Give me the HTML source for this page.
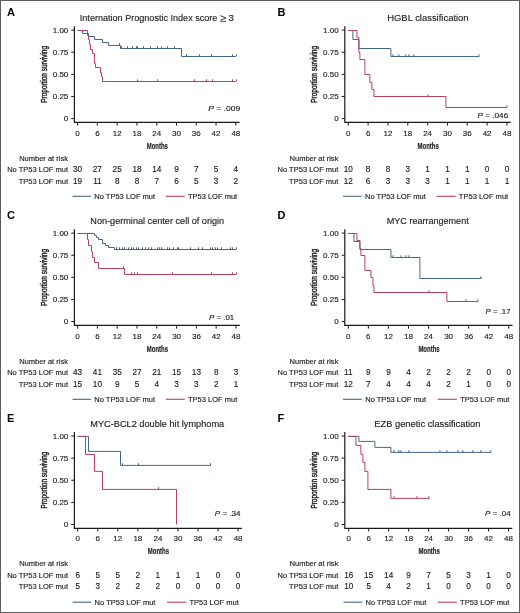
<!DOCTYPE html>
<html><head><meta charset="utf-8"><style>
html,body{margin:0;padding:0;background:#fff;}
svg{display:block;will-change:transform;}
text{font-family:"Liberation Sans",sans-serif;fill:#1e1e1e;stroke:#1e1e1e;stroke-width:0.15px;}
.lab{font-weight:bold;font-size:11px;fill:#000;stroke:none;}
.title{font-size:9.6px;}
.ge{font-size:11.2px;}
.tl{font-size:8px;}
.rt{font-size:7.52px;}
.rn{font-size:8.2px;}
.pv{font-size:7.6px;}
.axl{font-size:9.8px;font-weight:bold;stroke-width:0.2px;}
.axl2{font-size:9px;stroke-width:0.42px;}
.axis{fill:none;stroke:#1a1a1a;stroke-width:1.2;}
.tick{fill:none;stroke:#1a1a1a;stroke-width:1;}
</style></head>
<body><svg width="520" height="613" viewBox="0 0 520 613">
<rect x="0" y="0" width="520" height="613" fill="#fff"/>
<g transform="translate(0,0)">
<text x="7" y="16.3" class="lab">A</text>
<text x="79.80" y="21.4" class="title" textLength="137.60" lengthAdjust="spacingAndGlyphs">Internation Prognostic Index score</text>
<text x="219.9" y="22.3" class="title ge">≥</text>
<text x="228.4" y="21.3" class="title">3</text>
<path d="M74.4,26.2V122.4H239.64" class="axis"/>
<path d="M71.2,118.60H74.4" class="tick"/>
<text x="68.3" y="121.30" class="tl" text-anchor="end">0</text>
<path d="M71.2,96.47H74.4" class="tick"/>
<text x="68.3" y="99.17" class="tl" text-anchor="end">0.25</text>
<path d="M71.2,74.35H74.4" class="tick"/>
<text x="68.3" y="77.05" class="tl" text-anchor="end">0.50</text>
<path d="M71.2,52.22H74.4" class="tick"/>
<text x="68.3" y="54.92" class="tl" text-anchor="end">0.75</text>
<path d="M71.2,30.10H74.4" class="tick"/>
<text x="68.3" y="32.80" class="tl" text-anchor="end">1.00</text>
<path d="M77.60,122.4V125.6" class="tick"/>
<text x="77.60" y="135.5" class="tl" text-anchor="middle">0</text>
<path d="M97.38,122.4V125.6" class="tick"/>
<text x="97.38" y="135.5" class="tl" text-anchor="middle">6</text>
<path d="M117.16,122.4V125.6" class="tick"/>
<text x="117.16" y="135.5" class="tl" text-anchor="middle">12</text>
<path d="M136.94,122.4V125.6" class="tick"/>
<text x="136.94" y="135.5" class="tl" text-anchor="middle">18</text>
<path d="M156.72,122.4V125.6" class="tick"/>
<text x="156.72" y="135.5" class="tl" text-anchor="middle">24</text>
<path d="M176.50,122.4V125.6" class="tick"/>
<text x="176.50" y="135.5" class="tl" text-anchor="middle">30</text>
<path d="M196.28,122.4V125.6" class="tick"/>
<text x="196.28" y="135.5" class="tl" text-anchor="middle">36</text>
<path d="M216.06,122.4V125.6" class="tick"/>
<text x="216.06" y="135.5" class="tl" text-anchor="middle">42</text>
<path d="M235.84,122.4V125.6" class="tick"/>
<text x="235.84" y="135.5" class="tl" text-anchor="middle">48</text>
<text x="146.73" y="148.6" class="axl" textLength="21.2" lengthAdjust="spacingAndGlyphs">Months</text>
<text transform="translate(46.7,102.65) rotate(-90)" class="axl2" textLength="56.6" lengthAdjust="spacingAndGlyphs">Proportion surviving</text>
<text x="208.30" y="111.2" class="pv" textLength="31.80" lengthAdjust="spacingAndGlyphs"><tspan font-style="italic">P</tspan> = .009</text>
<path d="M77.60,30.50H82.50V33.50H88.50V36.50H94.50V39.50H102.50V42.50H108.50V45.50H120.50V48.50H181.50V56.50H235.84" fill="none" stroke="#466688" stroke-width="1"/>
<path d="M119.50,45.50v-2.2M121.50,48.50v-2.2M127.50,48.50v-2.2M132.50,48.50v-2.2M136.50,48.50v-2.2M137.50,48.50v-2.2M143.50,48.50v-2.2M150.50,48.50v-2.2M157.50,48.50v-2.2M161.50,48.50v-2.2M167.50,48.50v-2.2M174.50,48.50v-2.2M186.50,56.50v-2.2M199.50,56.50v-2.2M211.50,56.50v-2.2M232.50,56.50v-2.2M236.50,56.50v-2.2" fill="none" stroke="#466688" stroke-width="1"/>
<path d="M77.60,30.50H87.50V35.50H88.50V39.50H89.50V44.50H90.50V49.50H92.50V53.50H94.50V58.50H94.50V63.50H95.50V67.50H100.50V72.50H101.50V76.50H102.50V81.50H235.84" fill="none" stroke="#bb3f60" stroke-width="1"/>
<path d="M137.50,81.50v-2.2M157.50,81.50v-2.2M194.50,81.50v-2.2M206.50,81.50v-2.2M212.50,81.50v-2.2M232.50,81.50v-2.2M236.50,81.50v-2.2" fill="none" stroke="#bb3f60" stroke-width="1"/>
<text x="68" y="160.6" class="rt" text-anchor="end">Number at risk</text>
<text x="68" y="172.3" class="rt" text-anchor="end">No TP53 LOF mut</text>
<text x="68" y="183.5" class="rt" text-anchor="end">TP53 LOF mut</text>
<text x="77.60" y="172.4" class="rn" text-anchor="middle">30</text>
<text x="97.38" y="172.4" class="rn" text-anchor="middle">27</text>
<text x="117.16" y="172.4" class="rn" text-anchor="middle">25</text>
<text x="136.94" y="172.4" class="rn" text-anchor="middle">18</text>
<text x="156.72" y="172.4" class="rn" text-anchor="middle">14</text>
<text x="176.50" y="172.4" class="rn" text-anchor="middle">9</text>
<text x="196.28" y="172.4" class="rn" text-anchor="middle">7</text>
<text x="216.06" y="172.4" class="rn" text-anchor="middle">5</text>
<text x="235.84" y="172.4" class="rn" text-anchor="middle">4</text>
<text x="77.60" y="183.6" class="rn" text-anchor="middle">19</text>
<text x="97.38" y="183.6" class="rn" text-anchor="middle">11</text>
<text x="117.16" y="183.6" class="rn" text-anchor="middle">8</text>
<text x="136.94" y="183.6" class="rn" text-anchor="middle">8</text>
<text x="156.72" y="183.6" class="rn" text-anchor="middle">7</text>
<text x="176.50" y="183.6" class="rn" text-anchor="middle">6</text>
<text x="196.28" y="183.6" class="rn" text-anchor="middle">5</text>
<text x="216.06" y="183.6" class="rn" text-anchor="middle">3</text>
<text x="235.84" y="183.6" class="rn" text-anchor="middle">2</text>
<path d="M72.51,196.3H90.99" stroke="#466688" stroke-width="1.1"/>
<text x="94.28" y="199" class="rt">No TP53 LOF mut</text>
<path d="M165.71,196.3H184.69" stroke="#bb3f60" stroke-width="1.1"/>
<text x="187.89" y="199" class="rt">TP53 LOF mut</text>
</g>
<g transform="translate(270.4,0)">
<text x="7" y="16.3" class="lab">B</text>
<text x="116.80" y="21.4" class="title" textLength="81.40" lengthAdjust="spacingAndGlyphs">HGBL classification</text>
<path d="M74.4,26.2V122.4H240.34" class="axis"/>
<path d="M71.2,118.60H74.4" class="tick"/>
<text x="68.3" y="121.30" class="tl" text-anchor="end">0</text>
<path d="M71.2,96.47H74.4" class="tick"/>
<text x="68.3" y="99.17" class="tl" text-anchor="end">0.25</text>
<path d="M71.2,74.35H74.4" class="tick"/>
<text x="68.3" y="77.05" class="tl" text-anchor="end">0.50</text>
<path d="M71.2,52.22H74.4" class="tick"/>
<text x="68.3" y="54.92" class="tl" text-anchor="end">0.75</text>
<path d="M71.2,30.10H74.4" class="tick"/>
<text x="68.3" y="32.80" class="tl" text-anchor="end">1.00</text>
<path d="M77.90,122.4V125.6" class="tick"/>
<text x="77.90" y="135.5" class="tl" text-anchor="middle">0</text>
<path d="M97.73,122.4V125.6" class="tick"/>
<text x="97.73" y="135.5" class="tl" text-anchor="middle">6</text>
<path d="M117.56,122.4V125.6" class="tick"/>
<text x="117.56" y="135.5" class="tl" text-anchor="middle">12</text>
<path d="M137.39,122.4V125.6" class="tick"/>
<text x="137.39" y="135.5" class="tl" text-anchor="middle">18</text>
<path d="M157.22,122.4V125.6" class="tick"/>
<text x="157.22" y="135.5" class="tl" text-anchor="middle">24</text>
<path d="M177.05,122.4V125.6" class="tick"/>
<text x="177.05" y="135.5" class="tl" text-anchor="middle">30</text>
<path d="M196.88,122.4V125.6" class="tick"/>
<text x="196.88" y="135.5" class="tl" text-anchor="middle">36</text>
<path d="M216.71,122.4V125.6" class="tick"/>
<text x="216.71" y="135.5" class="tl" text-anchor="middle">42</text>
<path d="M236.54,122.4V125.6" class="tick"/>
<text x="236.54" y="135.5" class="tl" text-anchor="middle">48</text>
<text x="147.20" y="148.6" class="axl" textLength="21.2" lengthAdjust="spacingAndGlyphs">Months</text>
<text transform="translate(46.7,102.65) rotate(-90)" class="axl2" textLength="56.6" lengthAdjust="spacingAndGlyphs">Proportion surviving</text>
<text x="207.20" y="117.9" class="pv" textLength="30.60" lengthAdjust="spacingAndGlyphs"><tspan font-style="italic">P</tspan> = .046</text>
<path d="M77.80,30.50H82.50V39.50H88.50V48.50H120.50V56.50H208.81" fill="none" stroke="#466688" stroke-width="1"/>
<path d="M122.50,56.50v-2.2M128.50,56.50v-2.2M135.50,56.50v-2.2M138.50,56.50v-2.2M143.50,56.50v-2.2M208.50,56.50v-2.2" fill="none" stroke="#466688" stroke-width="1"/>
<path d="M77.80,30.50H86.50V37.50H88.50V52.50H89.50V59.50H94.50V74.50H99.50V82.50H101.50V89.50H103.50V96.50H175.50V107.50H236.54" fill="none" stroke="#bb3f60" stroke-width="1"/>
<path d="M157.50,96.50v-2.2M236.50,107.50v-2.2" fill="none" stroke="#bb3f60" stroke-width="1"/>
<text x="68" y="160.6" class="rt" text-anchor="end">Number at risk</text>
<text x="68" y="172.3" class="rt" text-anchor="end">No TP53 LOF mut</text>
<text x="68" y="183.5" class="rt" text-anchor="end">TP53 LOF mut</text>
<text x="77.90" y="172.4" class="rn" text-anchor="middle">10</text>
<text x="97.73" y="172.4" class="rn" text-anchor="middle">8</text>
<text x="117.56" y="172.4" class="rn" text-anchor="middle">8</text>
<text x="137.39" y="172.4" class="rn" text-anchor="middle">3</text>
<text x="157.22" y="172.4" class="rn" text-anchor="middle">1</text>
<text x="177.05" y="172.4" class="rn" text-anchor="middle">1</text>
<text x="196.88" y="172.4" class="rn" text-anchor="middle">1</text>
<text x="216.71" y="172.4" class="rn" text-anchor="middle">0</text>
<text x="236.54" y="172.4" class="rn" text-anchor="middle">0</text>
<text x="77.90" y="183.6" class="rn" text-anchor="middle">12</text>
<text x="97.73" y="183.6" class="rn" text-anchor="middle">6</text>
<text x="117.56" y="183.6" class="rn" text-anchor="middle">3</text>
<text x="137.39" y="183.6" class="rn" text-anchor="middle">3</text>
<text x="157.22" y="183.6" class="rn" text-anchor="middle">3</text>
<text x="177.05" y="183.6" class="rn" text-anchor="middle">1</text>
<text x="196.88" y="183.6" class="rn" text-anchor="middle">1</text>
<text x="216.71" y="183.6" class="rn" text-anchor="middle">1</text>
<text x="236.54" y="183.6" class="rn" text-anchor="middle">1</text>
<path d="M72.79,196.3H91.32" stroke="#466688" stroke-width="1.1"/>
<text x="94.63" y="199" class="rt">No TP53 LOF mut</text>
<path d="M166.23,196.3H185.26" stroke="#bb3f60" stroke-width="1.1"/>
<text x="188.47" y="199" class="rt">TP53 LOF mut</text>
</g>
<g transform="translate(0,203)">
<text x="7" y="16.3" class="lab">C</text>
<text x="90.30" y="21.4" class="title" textLength="133.90" lengthAdjust="spacingAndGlyphs">Non-germinal center cell of origin</text>
<path d="M74.4,26.2V122.4H239.80" class="axis"/>
<path d="M71.2,118.60H74.4" class="tick"/>
<text x="68.3" y="121.30" class="tl" text-anchor="end">0</text>
<path d="M71.2,96.47H74.4" class="tick"/>
<text x="68.3" y="99.17" class="tl" text-anchor="end">0.25</text>
<path d="M71.2,74.35H74.4" class="tick"/>
<text x="68.3" y="77.05" class="tl" text-anchor="end">0.50</text>
<path d="M71.2,52.22H74.4" class="tick"/>
<text x="68.3" y="54.92" class="tl" text-anchor="end">0.75</text>
<path d="M71.2,30.10H74.4" class="tick"/>
<text x="68.3" y="32.80" class="tl" text-anchor="end">1.00</text>
<path d="M77.60,122.4V125.6" class="tick"/>
<text x="77.60" y="135.5" class="tl" text-anchor="middle">0</text>
<path d="M97.40,122.4V125.6" class="tick"/>
<text x="97.40" y="135.5" class="tl" text-anchor="middle">6</text>
<path d="M117.20,122.4V125.6" class="tick"/>
<text x="117.20" y="135.5" class="tl" text-anchor="middle">12</text>
<path d="M137.00,122.4V125.6" class="tick"/>
<text x="137.00" y="135.5" class="tl" text-anchor="middle">18</text>
<path d="M156.80,122.4V125.6" class="tick"/>
<text x="156.80" y="135.5" class="tl" text-anchor="middle">24</text>
<path d="M176.60,122.4V125.6" class="tick"/>
<text x="176.60" y="135.5" class="tl" text-anchor="middle">30</text>
<path d="M196.40,122.4V125.6" class="tick"/>
<text x="196.40" y="135.5" class="tl" text-anchor="middle">36</text>
<path d="M216.20,122.4V125.6" class="tick"/>
<text x="216.20" y="135.5" class="tl" text-anchor="middle">42</text>
<path d="M236.00,122.4V125.6" class="tick"/>
<text x="236.00" y="135.5" class="tl" text-anchor="middle">48</text>
<text x="146.80" y="148.6" class="axl" textLength="21.2" lengthAdjust="spacingAndGlyphs">Months</text>
<text transform="translate(46.7,102.65) rotate(-90)" class="axl2" textLength="56.6" lengthAdjust="spacingAndGlyphs">Proportion surviving</text>
<text x="209.10" y="116.6" class="pv" textLength="25.00" lengthAdjust="spacingAndGlyphs"><tspan font-style="italic">P</tspan> = .01</text>
<path d="M77.60,30.50H94.50V32.50H96.50V34.50H98.50V36.50H102.50V40.50H105.50V42.50H108.50V44.50H114.50V46.50H236.00" fill="none" stroke="#466688" stroke-width="1"/>
<path d="M116.50,46.50v-2.2M119.50,46.50v-2.2M122.50,46.50v-2.2M124.50,46.50v-2.2M128.50,46.50v-2.2M131.50,46.50v-2.2M133.50,46.50v-2.2M136.50,46.50v-2.2M138.50,46.50v-2.2M142.50,46.50v-2.2M145.50,46.50v-2.2M148.50,46.50v-2.2M151.50,46.50v-2.2M157.50,46.50v-2.2M159.50,46.50v-2.2M161.50,46.50v-2.2M167.50,46.50v-2.2M169.50,46.50v-2.2M173.50,46.50v-2.2M177.50,46.50v-2.2M178.50,46.50v-2.2M190.50,46.50v-2.2M198.50,46.50v-2.2M202.50,46.50v-2.2M210.50,46.50v-2.2M212.50,46.50v-2.2M215.50,46.50v-2.2M217.50,46.50v-2.2M221.50,46.50v-2.2M230.50,46.50v-2.2M232.50,46.50v-2.2M236.50,46.50v-2.2" fill="none" stroke="#466688" stroke-width="1"/>
<path d="M77.60,30.50H87.50V36.50H88.50V42.50H91.50V48.50H92.50V54.50H94.50V59.50H98.50V65.50H124.50V71.50H236.00" fill="none" stroke="#bb3f60" stroke-width="1"/>
<path d="M123.50,65.50v-2.2M131.50,71.50v-2.2M134.50,71.50v-2.2M137.50,71.50v-2.2M172.50,71.50v-2.2M211.50,71.50v-2.2M232.50,71.50v-2.2M236.50,71.50v-2.2" fill="none" stroke="#bb3f60" stroke-width="1"/>
<text x="68" y="160.6" class="rt" text-anchor="end">Number at risk</text>
<text x="68" y="172.3" class="rt" text-anchor="end">No TP53 LOF mut</text>
<text x="68" y="183.5" class="rt" text-anchor="end">TP53 LOF mut</text>
<text x="77.60" y="172.4" class="rn" text-anchor="middle">43</text>
<text x="97.40" y="172.4" class="rn" text-anchor="middle">41</text>
<text x="117.20" y="172.4" class="rn" text-anchor="middle">35</text>
<text x="137.00" y="172.4" class="rn" text-anchor="middle">27</text>
<text x="156.80" y="172.4" class="rn" text-anchor="middle">21</text>
<text x="176.60" y="172.4" class="rn" text-anchor="middle">15</text>
<text x="196.40" y="172.4" class="rn" text-anchor="middle">13</text>
<text x="216.20" y="172.4" class="rn" text-anchor="middle">8</text>
<text x="236.00" y="172.4" class="rn" text-anchor="middle">3</text>
<text x="77.60" y="183.6" class="rn" text-anchor="middle">15</text>
<text x="97.40" y="183.6" class="rn" text-anchor="middle">10</text>
<text x="117.20" y="183.6" class="rn" text-anchor="middle">9</text>
<text x="137.00" y="183.6" class="rn" text-anchor="middle">5</text>
<text x="156.80" y="183.6" class="rn" text-anchor="middle">4</text>
<text x="176.60" y="183.6" class="rn" text-anchor="middle">3</text>
<text x="196.40" y="183.6" class="rn" text-anchor="middle">3</text>
<text x="216.20" y="183.6" class="rn" text-anchor="middle">2</text>
<text x="236.00" y="183.6" class="rn" text-anchor="middle">1</text>
<path d="M72.50,196.3H91.00" stroke="#466688" stroke-width="1.1"/>
<text x="94.30" y="199" class="rt">No TP53 LOF mut</text>
<path d="M165.80,196.3H184.80" stroke="#bb3f60" stroke-width="1.1"/>
<text x="188.00" y="199" class="rt">TP53 LOF mut</text>
</g>
<g transform="translate(270.4,203)">
<text x="7" y="16.3" class="lab">D</text>
<text x="116.40" y="21.4" class="title" textLength="81.90" lengthAdjust="spacingAndGlyphs">MYC rearrangement</text>
<path d="M74.4,26.2V122.4H242.18" class="axis"/>
<path d="M71.2,118.60H74.4" class="tick"/>
<text x="68.3" y="121.30" class="tl" text-anchor="end">0</text>
<path d="M71.2,96.47H74.4" class="tick"/>
<text x="68.3" y="99.17" class="tl" text-anchor="end">0.25</text>
<path d="M71.2,74.35H74.4" class="tick"/>
<text x="68.3" y="77.05" class="tl" text-anchor="end">0.50</text>
<path d="M71.2,52.22H74.4" class="tick"/>
<text x="68.3" y="54.92" class="tl" text-anchor="end">0.75</text>
<path d="M71.2,30.10H74.4" class="tick"/>
<text x="68.3" y="32.80" class="tl" text-anchor="end">1.00</text>
<path d="M77.90,122.4V125.6" class="tick"/>
<text x="77.90" y="135.5" class="tl" text-anchor="middle">0</text>
<path d="M97.96,122.4V125.6" class="tick"/>
<text x="97.96" y="135.5" class="tl" text-anchor="middle">6</text>
<path d="M118.02,122.4V125.6" class="tick"/>
<text x="118.02" y="135.5" class="tl" text-anchor="middle">12</text>
<path d="M138.08,122.4V125.6" class="tick"/>
<text x="138.08" y="135.5" class="tl" text-anchor="middle">18</text>
<path d="M158.14,122.4V125.6" class="tick"/>
<text x="158.14" y="135.5" class="tl" text-anchor="middle">24</text>
<path d="M178.20,122.4V125.6" class="tick"/>
<text x="178.20" y="135.5" class="tl" text-anchor="middle">30</text>
<path d="M198.26,122.4V125.6" class="tick"/>
<text x="198.26" y="135.5" class="tl" text-anchor="middle">36</text>
<path d="M218.32,122.4V125.6" class="tick"/>
<text x="218.32" y="135.5" class="tl" text-anchor="middle">42</text>
<path d="M238.38,122.4V125.6" class="tick"/>
<text x="238.38" y="135.5" class="tl" text-anchor="middle">48</text>
<text x="148.01" y="148.6" class="axl" textLength="21.2" lengthAdjust="spacingAndGlyphs">Months</text>
<text transform="translate(46.7,102.65) rotate(-90)" class="axl2" textLength="56.6" lengthAdjust="spacingAndGlyphs">Proportion surviving</text>
<text x="215.10" y="110.8" class="pv" textLength="25.10" lengthAdjust="spacingAndGlyphs"><tspan font-style="italic">P</tspan> = .17</text>
<path d="M77.80,30.50H83.50V38.50H89.50V46.50H120.50V54.50H149.50V75.50H211.12" fill="none" stroke="#466688" stroke-width="1"/>
<path d="M122.50,54.50v-2.2M130.50,54.50v-2.2M135.50,54.50v-2.2M138.50,54.50v-2.2M210.50,75.50v-2.2" fill="none" stroke="#466688" stroke-width="1"/>
<path d="M77.80,30.50H86.50V37.50H89.50V45.50H90.50V52.50H94.50V67.50H100.50V74.50H102.50V82.50H103.50V89.50H176.50V98.50H207.82" fill="none" stroke="#bb3f60" stroke-width="1"/>
<path d="M158.50,89.50v-2.2M195.50,98.50v-2.2M207.50,98.50v-2.2" fill="none" stroke="#bb3f60" stroke-width="1"/>
<text x="68" y="160.6" class="rt" text-anchor="end">Number at risk</text>
<text x="68" y="172.3" class="rt" text-anchor="end">No TP53 LOF mut</text>
<text x="68" y="183.5" class="rt" text-anchor="end">TP53 LOF mut</text>
<text x="77.90" y="172.4" class="rn" text-anchor="middle">11</text>
<text x="97.96" y="172.4" class="rn" text-anchor="middle">9</text>
<text x="118.02" y="172.4" class="rn" text-anchor="middle">9</text>
<text x="138.08" y="172.4" class="rn" text-anchor="middle">4</text>
<text x="158.14" y="172.4" class="rn" text-anchor="middle">2</text>
<text x="178.20" y="172.4" class="rn" text-anchor="middle">2</text>
<text x="198.26" y="172.4" class="rn" text-anchor="middle">2</text>
<text x="218.32" y="172.4" class="rn" text-anchor="middle">0</text>
<text x="238.38" y="172.4" class="rn" text-anchor="middle">0</text>
<text x="77.90" y="183.6" class="rn" text-anchor="middle">12</text>
<text x="97.96" y="183.6" class="rn" text-anchor="middle">7</text>
<text x="118.02" y="183.6" class="rn" text-anchor="middle">4</text>
<text x="138.08" y="183.6" class="rn" text-anchor="middle">4</text>
<text x="158.14" y="183.6" class="rn" text-anchor="middle">4</text>
<text x="178.20" y="183.6" class="rn" text-anchor="middle">2</text>
<text x="198.26" y="183.6" class="rn" text-anchor="middle">1</text>
<text x="218.32" y="183.6" class="rn" text-anchor="middle">0</text>
<text x="238.38" y="183.6" class="rn" text-anchor="middle">0</text>
<path d="M72.73,196.3H91.48" stroke="#466688" stroke-width="1.1"/>
<text x="94.82" y="199" class="rt">No TP53 LOF mut</text>
<path d="M167.26,196.3H186.51" stroke="#bb3f60" stroke-width="1.1"/>
<text x="189.75" y="199" class="rt">TP53 LOF mut</text>
</g>
<g transform="translate(0,405.9)">
<text x="7" y="16.3" class="lab">E</text>
<text x="90.30" y="21.4" class="title" textLength="133.90" lengthAdjust="spacingAndGlyphs">MYC-BCL2 double hit lymphoma</text>
<path d="M74.4,26.2V122.4H241.90" class="axis"/>
<path d="M71.2,118.60H74.4" class="tick"/>
<text x="68.3" y="121.30" class="tl" text-anchor="end">0</text>
<path d="M71.2,96.47H74.4" class="tick"/>
<text x="68.3" y="99.17" class="tl" text-anchor="end">0.25</text>
<path d="M71.2,74.35H74.4" class="tick"/>
<text x="68.3" y="77.05" class="tl" text-anchor="end">0.50</text>
<path d="M71.2,52.22H74.4" class="tick"/>
<text x="68.3" y="54.92" class="tl" text-anchor="end">0.75</text>
<path d="M71.2,30.10H74.4" class="tick"/>
<text x="68.3" y="32.80" class="tl" text-anchor="end">1.00</text>
<path d="M77.70,122.4V125.6" class="tick"/>
<text x="77.70" y="135.5" class="tl" text-anchor="middle">0</text>
<path d="M97.75,122.4V125.6" class="tick"/>
<text x="97.75" y="135.5" class="tl" text-anchor="middle">6</text>
<path d="M117.80,122.4V125.6" class="tick"/>
<text x="117.80" y="135.5" class="tl" text-anchor="middle">12</text>
<path d="M137.85,122.4V125.6" class="tick"/>
<text x="137.85" y="135.5" class="tl" text-anchor="middle">18</text>
<path d="M157.90,122.4V125.6" class="tick"/>
<text x="157.90" y="135.5" class="tl" text-anchor="middle">24</text>
<path d="M177.95,122.4V125.6" class="tick"/>
<text x="177.95" y="135.5" class="tl" text-anchor="middle">30</text>
<path d="M198.00,122.4V125.6" class="tick"/>
<text x="198.00" y="135.5" class="tl" text-anchor="middle">36</text>
<path d="M218.05,122.4V125.6" class="tick"/>
<text x="218.05" y="135.5" class="tl" text-anchor="middle">42</text>
<path d="M238.10,122.4V125.6" class="tick"/>
<text x="238.10" y="135.5" class="tl" text-anchor="middle">48</text>
<text x="147.77" y="148.6" class="axl" textLength="21.2" lengthAdjust="spacingAndGlyphs">Months</text>
<text transform="translate(46.7,102.65) rotate(-90)" class="axl2" textLength="56.6" lengthAdjust="spacingAndGlyphs">Proportion surviving</text>
<text x="214.80" y="110.3" class="pv" textLength="25.70" lengthAdjust="spacingAndGlyphs"><tspan font-style="italic">P</tspan> = .34</text>
<path d="M77.60,30.50H88.50V45.50H120.50V59.50H210.59" fill="none" stroke="#466688" stroke-width="1"/>
<path d="M122.50,59.50v-2.2M138.50,59.50v-2.2M210.50,59.50v-2.2" fill="none" stroke="#466688" stroke-width="1"/>
<path d="M77.60,30.50H85.50V48.50H94.50V65.50H102.50V83.50H176.50V118.50H176.27" fill="none" stroke="#bb3f60" stroke-width="1"/>
<path d="M158.50,83.50v-2.2" fill="none" stroke="#bb3f60" stroke-width="1"/>
<text x="68" y="160.6" class="rt" text-anchor="end">Number at risk</text>
<text x="68" y="172.3" class="rt" text-anchor="end">No TP53 LOF mut</text>
<text x="68" y="183.5" class="rt" text-anchor="end">TP53 LOF mut</text>
<text x="77.70" y="172.4" class="rn" text-anchor="middle">6</text>
<text x="97.75" y="172.4" class="rn" text-anchor="middle">5</text>
<text x="117.80" y="172.4" class="rn" text-anchor="middle">5</text>
<text x="137.85" y="172.4" class="rn" text-anchor="middle">2</text>
<text x="157.90" y="172.4" class="rn" text-anchor="middle">1</text>
<text x="177.95" y="172.4" class="rn" text-anchor="middle">1</text>
<text x="198.00" y="172.4" class="rn" text-anchor="middle">1</text>
<text x="218.05" y="172.4" class="rn" text-anchor="middle">0</text>
<text x="238.10" y="172.4" class="rn" text-anchor="middle">0</text>
<text x="77.70" y="183.6" class="rn" text-anchor="middle">5</text>
<text x="97.75" y="183.6" class="rn" text-anchor="middle">3</text>
<text x="117.80" y="183.6" class="rn" text-anchor="middle">2</text>
<text x="137.85" y="183.6" class="rn" text-anchor="middle">2</text>
<text x="157.90" y="183.6" class="rn" text-anchor="middle">2</text>
<text x="177.95" y="183.6" class="rn" text-anchor="middle">0</text>
<text x="198.00" y="183.6" class="rn" text-anchor="middle">0</text>
<text x="218.05" y="183.6" class="rn" text-anchor="middle">0</text>
<text x="238.10" y="183.6" class="rn" text-anchor="middle">0</text>
<path d="M72.54,196.3H91.27" stroke="#466688" stroke-width="1.1"/>
<text x="94.61" y="199" class="rt">No TP53 LOF mut</text>
<path d="M167.01,196.3H186.25" stroke="#bb3f60" stroke-width="1.1"/>
<text x="189.49" y="199" class="rt">TP53 LOF mut</text>
</g>
<g transform="translate(270.4,405.9)">
<text x="7" y="16.3" class="lab">F</text>
<text x="103.90" y="21.4" class="title" textLength="106.20" lengthAdjust="spacingAndGlyphs">EZB genetic classification</text>
<path d="M74.4,26.2V122.4H241.94" class="axis"/>
<path d="M71.2,118.60H74.4" class="tick"/>
<text x="68.3" y="121.30" class="tl" text-anchor="end">0</text>
<path d="M71.2,96.47H74.4" class="tick"/>
<text x="68.3" y="99.17" class="tl" text-anchor="end">0.25</text>
<path d="M71.2,74.35H74.4" class="tick"/>
<text x="68.3" y="77.05" class="tl" text-anchor="end">0.50</text>
<path d="M71.2,52.22H74.4" class="tick"/>
<text x="68.3" y="54.92" class="tl" text-anchor="end">0.75</text>
<path d="M71.2,30.10H74.4" class="tick"/>
<text x="68.3" y="32.80" class="tl" text-anchor="end">1.00</text>
<path d="M78.30,122.4V125.6" class="tick"/>
<text x="78.30" y="135.5" class="tl" text-anchor="middle">0</text>
<path d="M98.28,122.4V125.6" class="tick"/>
<text x="98.28" y="135.5" class="tl" text-anchor="middle">6</text>
<path d="M118.26,122.4V125.6" class="tick"/>
<text x="118.26" y="135.5" class="tl" text-anchor="middle">12</text>
<path d="M138.24,122.4V125.6" class="tick"/>
<text x="138.24" y="135.5" class="tl" text-anchor="middle">18</text>
<path d="M158.22,122.4V125.6" class="tick"/>
<text x="158.22" y="135.5" class="tl" text-anchor="middle">24</text>
<path d="M178.20,122.4V125.6" class="tick"/>
<text x="178.20" y="135.5" class="tl" text-anchor="middle">30</text>
<path d="M198.18,122.4V125.6" class="tick"/>
<text x="198.18" y="135.5" class="tl" text-anchor="middle">36</text>
<path d="M218.16,122.4V125.6" class="tick"/>
<text x="218.16" y="135.5" class="tl" text-anchor="middle">42</text>
<path d="M238.14,122.4V125.6" class="tick"/>
<text x="238.14" y="135.5" class="tl" text-anchor="middle">48</text>
<text x="148.13" y="148.6" class="axl" textLength="21.2" lengthAdjust="spacingAndGlyphs">Months</text>
<text transform="translate(46.7,102.65) rotate(-90)" class="axl2" textLength="56.6" lengthAdjust="spacingAndGlyphs">Proportion surviving</text>
<text x="214.70" y="110.3" class="pv" textLength="25.50" lengthAdjust="spacingAndGlyphs"><tspan font-style="italic">P</tspan> = .04</text>
<path d="M77.80,30.50H88.50V35.50H104.50V41.50H120.50V46.50H220.69" fill="none" stroke="#466688" stroke-width="1"/>
<path d="M123.50,46.50v-2.2M128.50,46.50v-2.2M130.50,46.50v-2.2M138.50,46.50v-2.2M169.50,46.50v-2.2M176.50,46.50v-2.2M187.50,46.50v-2.2M192.50,46.50v-2.2M202.50,46.50v-2.2M210.50,46.50v-2.2M220.50,46.50v-2.2" fill="none" stroke="#466688" stroke-width="1"/>
<path d="M77.80,30.50H85.50V39.50H90.50V48.50H92.50V56.50H94.50V65.50H97.50V74.50H97.50V83.50H120.50V92.50H158.98" fill="none" stroke="#bb3f60" stroke-width="1"/>
<path d="M123.50,92.50v-2.2M146.50,92.50v-2.2M158.50,92.50v-2.2" fill="none" stroke="#bb3f60" stroke-width="1"/>
<text x="68" y="160.6" class="rt" text-anchor="end">Number at risk</text>
<text x="68" y="172.3" class="rt" text-anchor="end">No TP53 LOF mut</text>
<text x="68" y="183.5" class="rt" text-anchor="end">TP53 LOF mut</text>
<text x="78.30" y="172.4" class="rn" text-anchor="middle">16</text>
<text x="98.28" y="172.4" class="rn" text-anchor="middle">15</text>
<text x="118.26" y="172.4" class="rn" text-anchor="middle">14</text>
<text x="138.24" y="172.4" class="rn" text-anchor="middle">9</text>
<text x="158.22" y="172.4" class="rn" text-anchor="middle">7</text>
<text x="178.20" y="172.4" class="rn" text-anchor="middle">5</text>
<text x="198.18" y="172.4" class="rn" text-anchor="middle">3</text>
<text x="218.16" y="172.4" class="rn" text-anchor="middle">1</text>
<text x="238.14" y="172.4" class="rn" text-anchor="middle">0</text>
<text x="78.30" y="183.6" class="rn" text-anchor="middle">10</text>
<text x="98.28" y="183.6" class="rn" text-anchor="middle">5</text>
<text x="118.26" y="183.6" class="rn" text-anchor="middle">4</text>
<text x="138.24" y="183.6" class="rn" text-anchor="middle">2</text>
<text x="158.22" y="183.6" class="rn" text-anchor="middle">1</text>
<text x="178.20" y="183.6" class="rn" text-anchor="middle">0</text>
<text x="198.18" y="183.6" class="rn" text-anchor="middle">0</text>
<text x="218.16" y="183.6" class="rn" text-anchor="middle">0</text>
<text x="238.14" y="183.6" class="rn" text-anchor="middle">0</text>
<path d="M73.15,196.3H91.82" stroke="#466688" stroke-width="1.1"/>
<text x="95.15" y="199" class="rt">No TP53 LOF mut</text>
<path d="M167.30,196.3H186.47" stroke="#bb3f60" stroke-width="1.1"/>
<text x="189.70" y="199" class="rt">TP53 LOF mut</text>
</g>
<rect x="0.5" y="0.5" width="519" height="612" fill="none" stroke="#5c5c5c" stroke-width="1"/>
</svg></body></html>
